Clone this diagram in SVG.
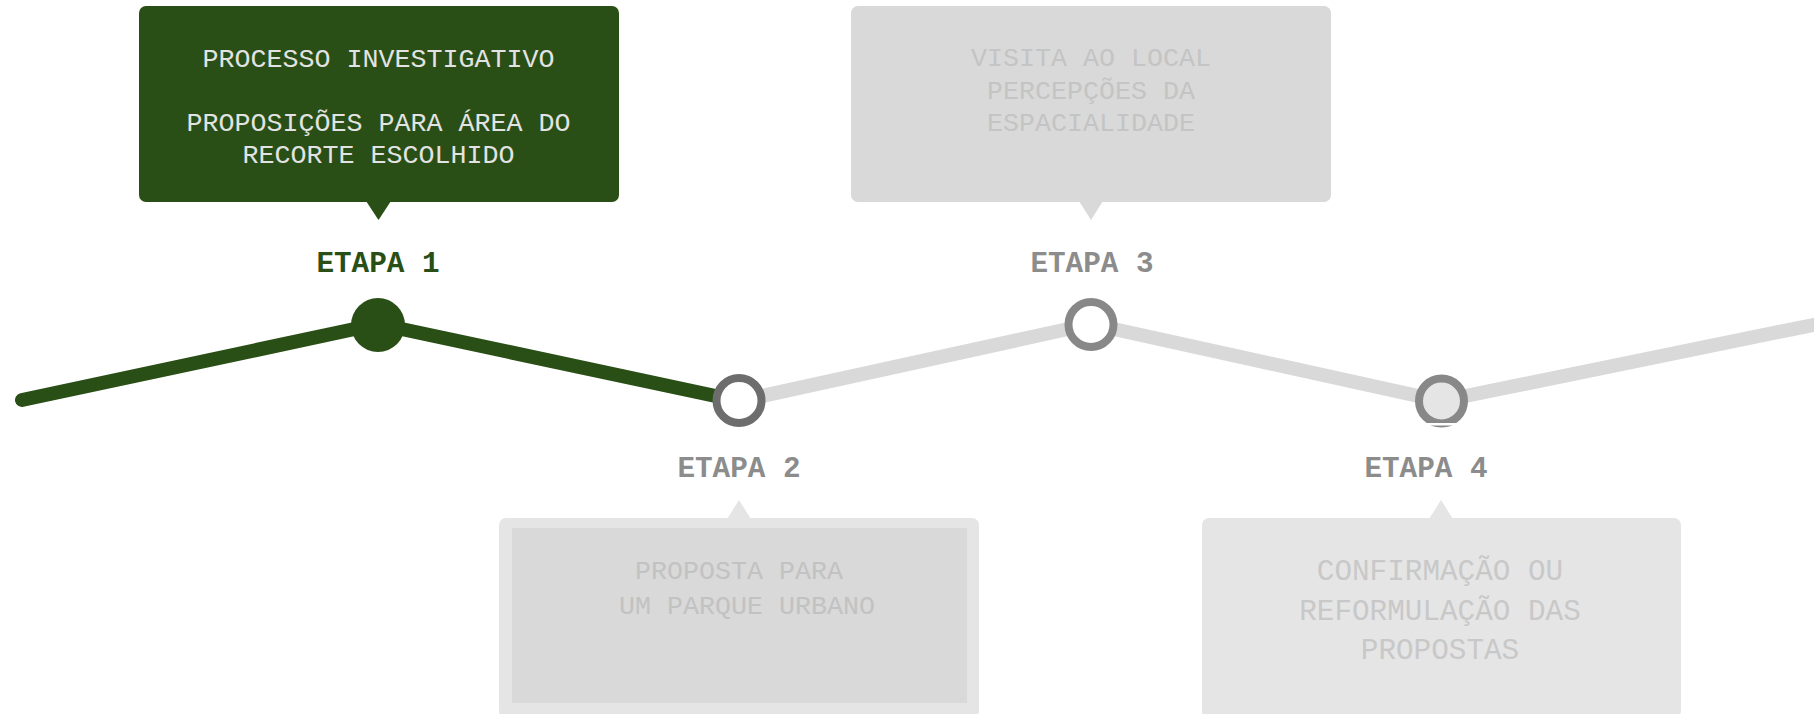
<svg xmlns="http://www.w3.org/2000/svg" width="1814" height="714" viewBox="0 0 1814 714">
<style>
.box{font-family:"Liberation Mono","Courier New",monospace;font-size:26.67px;text-anchor:middle}
.big{font-size:29.33px}
.lbl{font-family:"Liberation Mono","Courier New",monospace;font-size:29.33px;font-weight:bold;text-anchor:middle;fill:#8c8c8c}
.ring{stroke-width:8}
</style>
<rect width="1814" height="714" fill="#ffffff"/>
<g id="connectors" fill="none" stroke-linecap="round" stroke-linejoin="round" stroke-width="14">
  <polyline points="739,401 1091,324 1441,401 1830,321.5" stroke="#d9d9d9"/>
  <polyline points="22,400 378,324 739,401" stroke="#294f16"/>
</g>
<g id="etapa1">
  <rect x="139" y="6" width="480" height="196" rx="7" fill="#294f16"/>
  <polygon points="366,201 391,201 378.5,220" fill="#294f16"/>
  <text class="box" x="378.5" y="66.5" fill="#e3e3e3">PROCESSO INVESTIGATIVO</text>
  <text class="box" x="378.5" y="130.5" fill="#e3e3e3">PROPOSIÇÕES PARA ÁREA DO</text>
  <text class="box" x="378.5" y="162.5" fill="#e3e3e3">RECORTE ESCOLHIDO</text>
  <text class="lbl" x="378" y="272" style="fill:#294f16">ETAPA 1</text>
  <circle cx="378" cy="325" r="27" fill="#294f16"/>
</g>
<g id="etapa2">
  <rect x="499" y="518" width="480" height="200" rx="7" fill="#e5e5e5"/>
  <polygon points="727,519 751,519 739,500" fill="#e5e5e5"/>
  <rect x="512" y="528" width="455" height="175" fill="#d9d9d9"/>
  <text class="box" x="739" y="579" fill="#c2c2c2">PROPOSTA PARA</text>
  <text class="box" x="747" y="614" fill="#c2c2c2">UM PARQUE URBANO</text>
  <text class="lbl" x="739" y="477">ETAPA 2</text>
  <circle class="ring" cx="739" cy="400.5" r="22.5" fill="#ffffff" stroke="#6d6d6d"/>
</g>
<g id="etapa3">
  <rect x="851" y="6" width="480" height="196" rx="7" fill="#d9d9d9"/>
  <polygon points="1079,201 1103,201 1091,220" fill="#d9d9d9"/>
  <text class="box" x="1091" y="66" fill="#c4c4c4">VISITA AO LOCAL</text>
  <text class="box" x="1091" y="98.5" fill="#c4c4c4">PERCEPÇÕES DA</text>
  <text class="box" x="1091" y="131" fill="#c4c4c4">ESPACIALIDADE</text>
  <text class="lbl" x="1092" y="272">ETAPA 3</text>
  <circle class="ring" cx="1091" cy="324.5" r="22.5" fill="#ffffff" stroke="#888888"/>
</g>
<g id="etapa4">
  <rect x="1202" y="518" width="479" height="200" rx="7" fill="#e5e5e5"/>
  <polygon points="1429,519 1453,519 1441,500" fill="#e5e5e5"/>
  <text class="box big" x="1440" y="580" fill="#c8c8c8">CONFIRMAÇÃO OU</text>
  <text class="box big" x="1440" y="620" fill="#c8c8c8">REFORMULAÇÃO DAS</text>
  <text class="box big" x="1440" y="659" fill="#c8c8c8">PROPOSTAS</text>
  <text class="lbl" x="1426" y="477">ETAPA 4</text>
  <circle class="ring" cx="1441.5" cy="401" r="22.5" fill="#e5e5e5" stroke="#888888"/>
  <rect x="1410" y="423" width="64" height="2.5" fill="#ffffff"/>
</g>
</svg>
